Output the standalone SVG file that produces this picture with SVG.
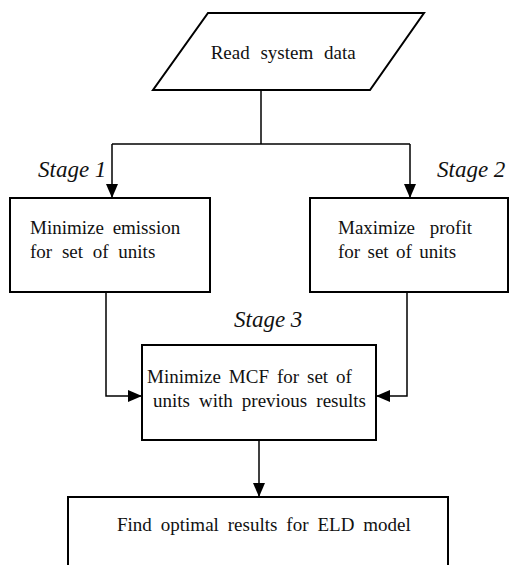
<svg xmlns="http://www.w3.org/2000/svg" width="509" height="565" viewBox="0 0 509 565">
<style>
.box{fill:#fff;stroke:#000;stroke-width:2}
.ln{fill:none;stroke:#000;stroke-width:1.5}
text{font-family:"Liberation Serif",serif}
.t{font-size:19px;fill:#111}
.st{font-size:23px;font-style:italic;fill:#111}
</style>
<defs>
<marker id="arr" markerUnits="userSpaceOnUse" markerWidth="14" markerHeight="14" viewBox="0 0 14 14" refX="14" refY="7" orient="auto">
<path d="M0,1 L14,7 L0,13 Z" fill="#000"/>
</marker>
</defs>
<g id="read">
<polygon class="box" points="208,13 424,13 370,90 153,90"/>
<text class="t" font-family="Liberation Serif" x="210.7" y="59" word-spacing="6">Read system data</text>
</g>
<g id="stage1">
<rect class="box" x="10" y="198" width="200" height="94"/>
<text class="t" font-family="Liberation Serif" x="30" y="234" word-spacing="4">Minimize emission</text>
<text class="t" font-family="Liberation Serif" x="30" y="258" word-spacing="5">for set of units</text>
</g>
<g id="stage2">
<rect class="box" x="310" y="198" width="198" height="94"/>
<text class="t" font-family="Liberation Serif" x="338" y="234" word-spacing="10">Maximize profit</text>
<text class="t" font-family="Liberation Serif" x="338" y="258" word-spacing="2.6">for set of units</text>
</g>
<g id="stage3">
<rect class="box" x="142" y="345" width="234" height="95"/>
<text class="t" font-family="Liberation Serif" x="147" y="383" word-spacing="3.2">Minimize MCF for set of</text>
<text class="t" font-family="Liberation Serif" x="153" y="407" word-spacing="4.3">units with previous results</text>
</g>
<g id="eld">
<rect class="box" x="68" y="497" width="380" height="100"/>
<text class="t" font-family="Liberation Serif" x="117" y="531" word-spacing="4.2">Find optimal results for ELD model</text>
</g>
<g id="labels">
<text class="st" font-family="Liberation Serif" x="38" y="177">Stage 1</text>
<text class="st" font-family="Liberation Serif" x="437" y="177">Stage 2</text>
<text class="st" font-family="Liberation Serif" x="234" y="327">Stage 3</text>
</g>
<g id="connectors">
<path class="ln" d="M261,90 V144"/>
<path class="ln" d="M112,144 H410"/>
<path class="ln" d="M112,144 V198" marker-end="url(#arr)"/>
<path class="ln" d="M410,144 V198" marker-end="url(#arr)"/>
<path class="ln" d="M106,292 V396 H142" marker-end="url(#arr)"/>
<path class="ln" d="M407,292 V396 H376" marker-end="url(#arr)"/>
<path class="ln" d="M259,440 V497" marker-end="url(#arr)"/>
</g>
</svg>
